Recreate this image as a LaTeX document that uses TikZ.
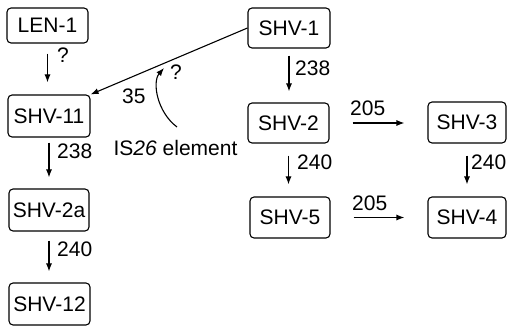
\documentclass[tikz,border=0pt]{standalone}
\usepackage{fontspec}
\setmainfont{Liberation Sans}
\usetikzlibrary{arrows.meta}
\begin{document}
\begin{tikzpicture}[x=1pt,y=-1pt,
  txt/.style={font=\fontsize{21}{24}\selectfont},
  box/.style={txt, draw, line width=1.1pt, rounded corners=4pt, inner sep=0pt},
  lbl/.style={txt, inner sep=0pt, anchor=west},
  arr/.style={line width=1.1pt, -{Latex[length=8pt,width=6pt]}}]
\useasboundingbox (0,0) rectangle (507,326);

% left column
\node[box, minimum width=81pt, minimum height=35pt] (len1)  at (47.5,25.5) {LEN-1};
\node[box, minimum width=82pt, minimum height=42pt] (shv11) at (49,116)    {SHV-11};
\node[box, minimum width=80pt, minimum height=42pt] (shv2a) at (49,210)    {SHV-2a};
\node[box, minimum width=81pt, minimum height=42pt] (shv12) at (49.5,304)  {SHV-12};

% middle column
\node[box, minimum width=82pt, minimum height=40pt] (shv1) at (289,28)    {SHV-1};
\node[box, minimum width=81pt, minimum height=40pt] (shv2) at (288.5,123) {SHV-2};
\node[box, minimum width=80pt, minimum height=41pt] (shv5) at (290,217.5) {SHV-5};

% right column
\node[box, minimum width=78pt, minimum height=41pt] (shv3) at (467,122.5) {SHV-3};
\node[box, minimum width=78pt, minimum height=41pt] (shv4) at (467,217.5) {SHV-4};

% vertical descent arrows
\draw[arr, shorten <=10pt, shorten >=12pt] (len1.south)  -- (len1.south  |- shv11.north);
\draw[arr, shorten <=5pt,  shorten >=11pt] (shv11.south) -- (shv11.south |- shv2a.north);
\draw[arr, shorten <=9pt,  shorten >=11pt] (shv2a.south) -- (shv2a.south |- shv12.north);
\draw[arr, shorten <=7pt,  shorten >=11pt] (shv1.south)  -- (shv1.south  |- shv2.north);
\draw[arr, shorten <=12pt, shorten >=12pt] (shv2.south)  -- (shv2.south  |- shv5.north);
\draw[arr, shorten <=12pt, shorten >=12pt] (shv3.south)  -- (shv3.south  |- shv4.north);

% horizontal arrows
\draw[arr, shorten <=23pt, shorten >=23pt] (shv2.east) -- (shv2.east -| shv3.west);
\draw[arr, shorten <=23pt, shorten >=23pt] (shv5.east) -- (shv5.east -| shv4.west);

% SHV-1 to SHV-11
\draw[arr] (shv1.west) -- (shv11.north east);

% IS26 element insertion
\node[txt, inner sep=0pt] (is26) at (175.5,148) {IS\textit{26} element};
\coordinate (isfrom) at (177,127);
\coordinate (isto) at (164,68);
\draw[line width=1.1pt, -{Latex[length=8pt,width=6pt]}]
  (isfrom) .. controls (157,112) and (152,82) .. (isto);

% edge labels
\node[lbl] (q1)   at (57,55)   {?};
\node[lbl] (l238a) at (57,151) {238};
\node[lbl] (l240a) at (57,249) {240};
\node[lbl] (l238b) at (295,68) {238};
\node[lbl] (l240b) at (297,162) {240};
\node[lbl] (l240c) at (471,162) {240};
\node[lbl] (l205a) at (350,108) {205};
\node[lbl] (l205b) at (352,203) {205};
\node[lbl] (l35)  at (122,96)  {35};
\node[lbl] (q2)   at (170,72)  {?};
\end{tikzpicture}
\end{document}
